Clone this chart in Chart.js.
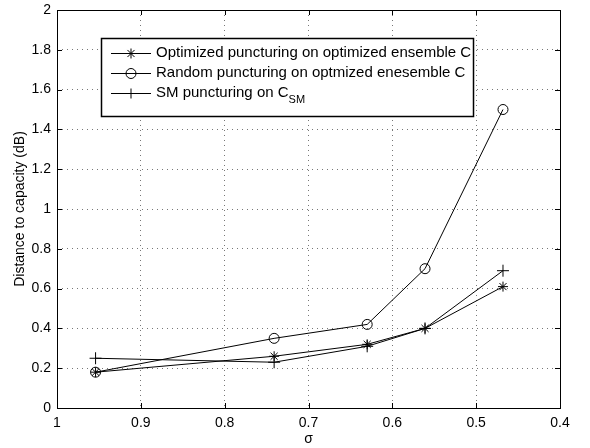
<!DOCTYPE html>
<html>
<head>
<meta charset="utf-8">
<script src="https://cdn.jsdelivr.net/npm/chart.js@4.4.0/dist/chart.umd.min.js"></script>
<style>
  html, body { margin: 0; padding: 0; background: #fff; }
  #wrap { width: 590px; height: 448px; }
</style>
</head>
<body>
<div id="wrap"><canvas id="grafico" width="590" height="448"></canvas></div>
<script>
// datos
const sigma = [0.954, 0.741, 0.630, 0.561, 0.468];
const optimizado = [0.18, 0.26, 0.32, 0.40, 0.61];
const aleatorio = [0.18, 0.35, 0.42, 0.70, 1.50];
const smPunct = [0.25, 0.23, 0.31, 0.40, 0.69];

const xTicks = [1, 0.9, 0.8, 0.7, 0.6, 0.5, 0.4];
const yTicks = [0, 0.2, 0.4, 0.6, 0.8, 1, 1.2, 1.4, 1.6, 1.8, 2];

const FUENTE = "'Liberation Sans', Arial, sans-serif";

function puntos(ys) {
    return sigma.map((x, i) => ({ x, y: ys[i] }));
}

// caja, marcas de ejes y leyenda estilo matlab
const marcoPlugin = {
    id: "marco",
    afterDraw(chart) {
        const { ctx, chartArea: a, scales } = chart;
        ctx.save();
        ctx.strokeStyle = "#000";
        ctx.lineWidth = 1;
        ctx.strokeRect(a.left + 0.5, a.top + 0.5, a.right - a.left, a.bottom - a.top);

        // ticks hacia adentro
        ctx.beginPath();
        for (const t of xTicks) {
            const px = Math.round(scales.x.getPixelForValue(t)) + 0.5;
            ctx.moveTo(px, a.bottom); ctx.lineTo(px, a.bottom - 5);
            ctx.moveTo(px, a.top); ctx.lineTo(px, a.top + 5);
        }
        for (const t of yTicks) {
            const py = Math.round(scales.y.getPixelForValue(t)) + 0.5;
            ctx.moveTo(a.left, py); ctx.lineTo(a.left + 5, py);
            ctx.moveTo(a.right, py); ctx.lineTo(a.right - 5, py);
        }
        ctx.stroke();

        // leyenda
        const bx = 101, by = 38, bw = 372, bh = 78;
        ctx.fillStyle = "#fff";
        ctx.fillRect(bx, by, bw, bh);
        ctx.lineWidth = 1.5;
        ctx.strokeRect(bx + 0.5, by + 0.5, bw, bh);

        const filas = [
            { estilo: "star", texto: "Optimized puncturing on optimized ensemble C" },
            { estilo: "circle", texto: "Random puncturing on optmized enesemble C" },
            { estilo: "cross", texto: "SM puncturing on C", sub: "SM" },
        ];
        ctx.textBaseline = "middle";
        filas.forEach((f, i) => {
            const yy = by + 15 + i * 20;
            ctx.strokeStyle = "#000";
            ctx.lineWidth = 1;
            ctx.beginPath();
            ctx.moveTo(bx + 10, yy + 0.5); ctx.lineTo(bx + 50, yy + 0.5);
            ctx.stroke();
            ctx.fillStyle = "rgba(0,0,0,0)";
            Chart.helpers.drawPoint(ctx, { pointStyle: f.estilo, radius: 5, borderWidth: 1 }, bx + 30, yy + 0.5);
            ctx.fillStyle = "#000";
            ctx.font = "15px " + FUENTE;
            ctx.fillText(f.texto, bx + 55, yy);
            if (f.sub) {
                const w = ctx.measureText(f.texto).width;
                ctx.font = "11px " + FUENTE;
                ctx.fillText(f.sub, bx + 55 + w, yy + 7);
            }
        });
        ctx.restore();
    },
};

const serie = (label, ys, estilo, radio) => ({
    label,
    data: puntos(ys),
    borderColor: "#000",
    backgroundColor: "rgba(0,0,0,0)",
    borderWidth: 1,
    pointStyle: estilo,
    pointRadius: radio,
    pointBorderWidth: 1,
    pointBorderColor: "#000",
    tension: 0,
});

const rejilla = {
    color: "#777",
    drawTicks: false,
    lineWidth: 1,
};

function sinRelleno(s) {
    s.paddingTop = 0;
    s.paddingBottom = 0;
    s.paddingLeft = 0;
    s.paddingRight = 0;
}

new Chart(document.getElementById("grafico"), {
    type: "line",
    data: {
        datasets: [
            serie("Optimized puncturing on optimized ensemble C", optimizado, "star", 5),
            serie("Random puncturing on optmized enesemble C", aleatorio, "circle", 5),
            serie("SM puncturing on C_SM", smPunct, "cross", 6),
        ],
    },
    options: {
        responsive: false,
        animation: false,
        layout: { padding: { top: 10, right: 30, left: 0, bottom: 0 } },
        plugins: {
            legend: { display: false },
            tooltip: { enabled: false },
        },
        scales: {
            x: {
                type: "linear",
                reverse: true,
                min: 0.4,
                max: 1,
                afterBuildTicks(s) { s.ticks = xTicks.map((v) => ({ value: v })); },
                afterFit(s) { s.height = 40; sinRelleno(s); },
                border: { display: false, dash: [1, 4] },
                grid: rejilla,
                ticks: {
                    color: "#000",
                    font: { family: FUENTE, size: 14 },
                    padding: 7,
                    maxRotation: 0,
                    callback: (v) => String(v),
                },
                title: {
                    display: true,
                    text: "σ",
                    color: "#000",
                    font: { family: FUENTE, size: 14 },
                    padding: { top: 0, bottom: 0 },
                },
            },
            y: {
                min: 0,
                max: 2,
                afterBuildTicks(s) { s.ticks = yTicks.map((v) => ({ value: v })); },
                afterFit(s) { s.width = 57; sinRelleno(s); },
                border: { display: false, dash: [1, 4] },
                grid: rejilla,
                ticks: {
                    color: "#000",
                    font: { family: FUENTE, size: 14 },
                    padding: 6,
                    callback: (v) => String(v),
                },
                title: {
                    display: true,
                    text: "Distance to capacity (dB)",
                    color: "#000",
                    font: { family: FUENTE, size: 14 },
                    padding: { top: 12, bottom: 0 },
                },
            },
        },
    },
    plugins: [marcoPlugin],
});
</script>
</body>
</html>
